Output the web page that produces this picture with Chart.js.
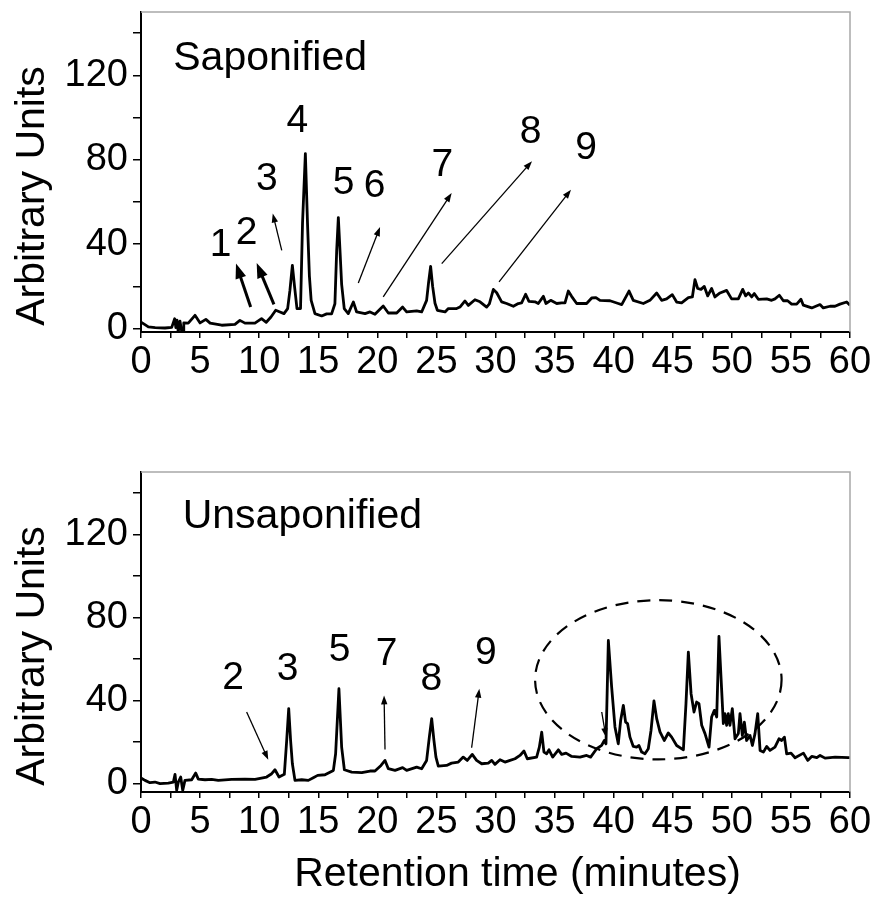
<!DOCTYPE html>
<html>
<head>
<meta charset="utf-8">
<script src="https://cdn.jsdelivr.net/npm/chart.js@4.4.1/dist/chart.umd.min.js"></script>
<style>
  body { margin: 0; background: #fff; }
  #wrap { position: relative; width: 877px; height: 900px; }
  canvas { position: absolute; left: 0; }
</style>
</head>
<body>
<div id="wrap">
  <canvas id="sapChart" width="877" height="410" style="top:0"></canvas>
  <canvas id="unsapChart" width="877" height="490" style="top:410px"></canvas>
</div>
<script>
// retention time (min) and signal
const sapTime = [
  0, 0.3, 0.62, 1.2, 2.03, 2.6, 2.85, 2.95, 3.05, 3.15,
  3.3, 3.45, 3.56, 3.62, 4.0, 4.57, 5.0, 5.49, 5.85, 6.83,
  7.95, 8.37, 8.8, 9.64, 10.2, 10.6, 11.0, 11.4, 11.76, 12.1,
  12.41, 12.6, 12.81, 13.0, 13.2, 13.5, 13.67, 13.91, 14.09, 14.25,
  14.4, 14.72, 15.29, 15.71, 16.13, 16.41, 16.56, 16.7, 16.84, 16.98,
  17.2, 17.54, 17.97, 18.25, 18.96, 19.38, 19.8, 20.5, 20.93, 21.64,
  22.14, 22.48, 23.33, 23.75, 24.17, 24.34, 24.51, 24.68, 24.88, 25.08,
  25.73, 26.01, 26.71, 26.99, 27.42, 27.7, 28.26, 28.69, 29.25, 29.48,
  29.82, 30.1, 30.52, 30.94, 31.51, 31.93, 32.21, 32.55, 32.83, 33.34,
  33.62, 34.05, 34.27, 34.67, 35.18, 35.6, 35.88, 36.16, 36.44, 36.87,
  37.71, 38.14, 38.5, 38.84, 39.69, 40.39, 40.68, 41.3, 41.66, 42.51,
  43.07, 43.64, 44.06, 44.48, 44.96, 45.33, 45.75, 46.32, 46.66, 46.88,
  47.11, 47.39, 47.67, 47.96, 48.29, 48.57, 49.0, 49.56, 49.98, 50.55,
  50.92, 51.17, 51.4, 51.68, 51.9, 52.24, 52.95, 53.37, 53.65, 54.02,
  54.36, 54.72, 55.06, 55.49, 55.85, 56.05, 56.76, 57.46, 57.74, 58.31,
  58.73, 59.15, 59.72, 60
]
const sapSignal = [
  3.1, 2.0, 0.8, 0.5, 0.3, 0.6, 4.7, 0.5, 4.0, -1.6,
  3.5, -1.6, -1.6, 2.7, 2.6, 6.3, 2.7, 4.4, 2.6, 1.6,
  2.0, 3.9, 2.6, 2.6, 4.7, 3.0, 5.5, 8.7, 7.9, 7.1,
  9.5, 18, 30.0, 19.7, 9.5, 9.5, 50, 82.9, 50, 25,
  13.4, 7.1, 6.0, 7.0, 7.0, 11.8, 37, 52.6, 37, 21,
  9.5, 7.1, 12.6, 7.9, 7.1, 7.9, 6.8, 10.7, 7.4, 7.4,
  10.2, 7.9, 8.4, 7.9, 13.4, 22, 29.5, 20, 12, 8.7,
  7.9, 9.5, 9.5, 10.2, 13.1, 11.0, 13.7, 12.7, 10.2, 11.7,
  18.6, 17.0, 12.7, 11.9, 10.6, 11.9, 12.2, 16.3, 12.9, 12.7,
  11.9, 15.3, 11.9, 13.4, 11.9, 12.2, 12.2, 17.8, 15.3, 11.9,
  11.9, 14.5, 14.7, 13.4, 13.2, 11.9, 11.4, 17.8, 13.4, 11.9,
  13.4, 16.9, 13.4, 14.1, 16.1, 12.6, 12.2, 14.7, 15.0, 23.2,
  19, 18.6, 20, 15.5, 19, 15.0, 16.9, 18.1, 14.1, 14.1,
  18.6, 15.5, 16.9, 15, 16.6, 13.9, 14.1, 13.4, 14.1, 15.8,
  13.2, 13.2, 11.6, 11.6, 13.9, 11.1, 9.8, 11.4, 9.8, 10.6,
  10.6, 11.6, 12.6, 11.1
]
const unsapTime = [
  0, 0.34, 0.76, 1.18, 1.61, 2.31, 2.74, 2.88, 3.02, 3.16,
  3.36, 3.53, 3.72, 4.29, 4.63, 4.85, 5.42, 5.98, 6.54, 7.67,
  8.8, 9.65, 10.63, 11.06, 11.34, 11.68, 12.13, 12.33, 12.5, 12.66,
  12.81, 13.03, 13.6, 14.16, 14.58, 14.95, 15.57, 16.28, 16.47, 16.75,
  16.98, 17.21, 17.83, 18.68, 19.38, 19.8, 20.31, 20.65, 20.93, 21.5,
  22.14, 22.48, 23.33, 23.75, 24.17, 24.4, 24.6, 24.79, 24.96, 25.16,
  25.86, 26.28, 26.85, 27.27, 27.61, 28.03, 28.4, 28.83, 29.39, 29.68,
  29.95, 30.38, 30.8, 31.23, 31.65, 32.07, 32.41, 32.69, 33.48, 33.71,
  33.91, 34.1, 34.33, 34.53, 34.84, 35.32, 35.6, 35.97, 36.45, 37.15,
  37.71, 38.05, 38.56, 38.98, 39.21, 39.35, 39.55, 39.83, 40.11, 40.39,
  40.59, 40.82, 41.01, 41.18, 41.38, 41.66, 41.94, 42.14, 42.37, 42.65,
  42.93, 43.16, 43.41, 43.64, 43.92, 44.28, 44.62, 44.91, 45.33, 45.9,
  46.12, 46.32, 46.55, 46.8, 47.02, 47.22, 47.45, 47.73, 48.07, 48.29,
  48.52, 48.72, 48.91, 49.14, 49.28, 49.42, 49.56, 49.7, 49.84, 50.04,
  50.27, 50.55, 50.69, 50.89, 51.06, 51.25, 51.54, 51.74, 51.96, 52.19,
  52.39, 52.67, 52.95, 53.23, 53.65, 53.99, 54.22, 54.45, 54.64, 55.01,
  55.35, 56.06, 56.42, 56.76, 57.19, 57.47, 57.89, 58.74, 59.87, 60
]
const unsapSignal = [
  2.7, 1.6, 0.5, 0.8, 0, 0.3, 0.8, 4.5, -3.2, 0.8,
  3.2, -3.2, 1.6, 1.9, 5.1, 2.2, 1.9, 2.1, 1.6, 2.1,
  2.2, 2.1, 3.2, 4.8, 6.7, 3.2, 4.5, 20.8, 36.1, 20.8,
  9.6, 1.6, 1.9, 1.6, 2.9, 4.0, 4.3, 6.4, 14.4, 45.7,
  17.6, 6.7, 5.6, 5.3, 6.1, 6.1, 8.8, 11.2, 7.2, 6.4,
  7.7, 6.4, 8.0, 7.2, 11.2, 22.4, 31.3, 20.8, 12.8, 8.5,
  8.8, 9.9, 10.4, 12.8, 11.2, 14.1, 11.2, 9.6, 9.9, 11.2,
  9.3, 11.5, 10.4, 11.2, 12.0, 13.6, 15.7, 12.0, 12.8, 17.6,
  24.8, 15.2, 14.4, 16.3, 12.8, 16.3, 14.1, 14.7, 13.1, 12.8,
  13.6, 12.8, 16.8, 18.4, 20.8, 19.2, 68.9, 46.5, 27.3, 19.2,
  30.4, 37.7, 29.6, 28.9, 22.4, 17.9, 17.6, 18.4, 15.2, 14.4,
  16.8, 25.6, 39.8, 31.3, 24.9, 20.8, 24.4, 22.4, 18.4, 16.3,
  38.5, 63.3, 43.3, 34.5, 39.3, 38.5, 28.1, 24.1, 17.6, 32.1,
  35.3, 32.1, 70.9, 44.9, 28.9, 33.7, 28.1, 33.7, 28.1, 36.1,
  21.6, 24.1, 33.7, 23.2, 29.6, 20.8, 23.2, 18.4, 24.1, 33.7,
  16.0, 15.2, 17.9, 16.0, 17.6, 21.6, 20.8, 22.4, 14.4, 14.7,
  12.5, 14.7, 11.2, 13.1, 12.5, 13.6, 12.3, 12.8, 12.5, 12.5
]

const xTicks = [0, 2.5, 5, 7.5, 10, 12.5, 15, 17.5, 20, 22.5, 25, 27.5, 30, 32.5, 35, 37.5, 40, 42.5, 45, 47.5, 50, 52.5, 55, 57.5, 60]
const xLabelled = [0, 5, 10, 15, 20, 25, 30, 35, 40, 45, 50, 55, 60]
const yTicks = [0, 20, 40, 60, 80, 100, 120, 140]
const yLabelled = [0, 40, 80, 120]

// peak numbers and arrows, in (time, signal) units
const sapNotes = {
  title: {text: 'Saponified', t: 2.73, v: 122.4},
  labels: [
    {text: '1', t: 6.73, v: 39.5}, {text: '2', t: 8.94, v: 45.4}, {text: '3', t: 10.64, v: 70.7},
    {text: '4', t: 13.24, v: 98.2}, {text: '5', t: 17.14, v: 69.1}, {text: '6', t: 19.76, v: 67.4},
    {text: '7', t: 25.51, v: 77.4}, {text: '8', t: 32.96, v: 92.8}, {text: '9', t: 37.66, v: 85.6}
  ],
  arrows: [
    {from: [9.28, 10.2], to: [8.04, 30.8], bold: true},
    {from: [11.25, 11.5], to: [9.79, 31.1], bold: true},
    {from: [11.91, 37.1], to: [11.15, 54.5]},
    {from: [18.39, 21.6], to: [20.23, 48.1]},
    {from: [20.5, 15.0], to: [26.29, 64.2]},
    {from: [25.45, 30.8], to: [33.09, 79.3]},
    {from: [30.3, 22.1], to: [36.39, 65.8]}
  ]
}
const unsapNotes = {
  title: {text: 'Unsaponified', t: 3.53, v: 123.0},
  labels: [
    {text: '2', t: 7.79, v: 50.9}, {text: '3', t: 12.4, v: 55.0}, {text: '5', t: 16.81, v: 64.0},
    {text: '7', t: 20.79, v: 62.2}, {text: '8', t: 24.58, v: 50.5}, {text: '9', t: 29.18, v: 62.6}
  ],
  arrows: [
    {from: [8.94, 34.5], to: [10.77, 11.5]},
    {from: [20.65, 16.4], to: [20.57, 42.5]},
    {from: [27.98, 17.3], to: [28.63, 45.7]},
    {from: [38.99, 34.5], to: [39.35, 22.4]}
  ],
  ellipse: {t: 43.78, v: 50.0, rt: 10.43, rv: 38.3}
}

const FONT = '"Liberation Sans", Arial, Helvetica, sans-serif'

function drawArrow(ctx, x0, y0, x1, y1, bold) {
  let len = bold ? 15 : 9
  let half = bold ? 5.5 : 3.2
  let ang = Math.atan2(y1 - y0, x1 - x0)
  ctx.lineWidth = bold ? 3 : 1.3
  ctx.beginPath()
  ctx.moveTo(x0, y0)
  ctx.lineTo(x1 - Math.cos(ang) * len * 0.8, y1 - Math.sin(ang) * len * 0.8)
  ctx.stroke()
  ctx.beginPath()
  ctx.moveTo(x1, y1)
  ctx.lineTo(x1 - Math.cos(ang) * len - Math.sin(ang) * half, y1 - Math.sin(ang) * len + Math.cos(ang) * half)
  ctx.lineTo(x1 - Math.cos(ang) * len + Math.sin(ang) * half, y1 - Math.sin(ang) * len - Math.cos(ang) * half)
  ctx.closePath()
  ctx.fill()
}

const notesPlugin = {
  id: 'notes',
  afterDatasetsDraw(chart, args, opts) {
    let ctx = chart.ctx
    let x = chart.scales.x, y = chart.scales.y
    let area = chart.chartArea
    let n = opts.notes
    ctx.save()
    // grey top and right frame
    ctx.strokeStyle = '#a8a8a8'
    ctx.lineWidth = 1.5
    ctx.beginPath()
    ctx.moveTo(area.left, area.top)
    ctx.lineTo(area.right, area.top)
    ctx.lineTo(area.right, area.bottom)
    ctx.stroke()

    ctx.fillStyle = '#000'
    ctx.strokeStyle = '#000'
    ctx.font = '41px ' + FONT
    ctx.textAlign = 'left'
    ctx.textBaseline = 'alphabetic'
    ctx.fillText(n.title.text, x.getPixelForValue(n.title.t), y.getPixelForValue(n.title.v))

    ctx.font = '39px ' + FONT
    ctx.textAlign = 'center'
    ctx.textBaseline = 'middle'
    n.labels.forEach(l => ctx.fillText(l.text, x.getPixelForValue(l.t), y.getPixelForValue(l.v)))
    n.arrows.forEach(a => drawArrow(ctx,
      x.getPixelForValue(a.from[0]), y.getPixelForValue(a.from[1]),
      x.getPixelForValue(a.to[0]), y.getPixelForValue(a.to[1]), a.bold))

    if (n.ellipse) {
      let e = n.ellipse
      let cx = x.getPixelForValue(e.t), cy = y.getPixelForValue(e.v)
      ctx.lineWidth = 2.2
      ctx.setLineDash([13, 9])
      ctx.beginPath()
      ctx.ellipse(cx, cy, x.getPixelForValue(e.t + e.rt) - cx, cy - y.getPixelForValue(e.v + e.rv), 0, 0, Math.PI * 2)
      ctx.stroke()
      ctx.setLineDash([])
    }

    // axis titles
    ctx.font = '41px ' + FONT
    ctx.save()
    ctx.translate(33, (area.top + area.bottom) / 2 + 24)
    ctx.rotate(-Math.PI / 2)
    ctx.fillText('Arbitrary Units', 0, 0)
    ctx.restore()
    if (opts.xTitle) {
      ctx.textBaseline = 'alphabetic'
      ctx.fillText(opts.xTitle, (area.left + area.right) / 2 + 22, area.bottom + 94)
    }
    ctx.restore()
  }
}

function makePanel(id, time, signal, yMin, padTop, xHeight, notes, xTitle) {
  let ctx = document.getElementById(id).getContext('2d')
  return new Chart(ctx, {
    type: 'line',
    data: {
      datasets: [{
        data: time.map((t, i) => ({x: t, y: signal[i]})),
        borderColor: '#000',
        borderWidth: 2.8,
        borderJoinStyle: 'round',
        pointRadius: 0,
        tension: 0,
        fill: false
      }]
    },
    options: {
      responsive: false,
      animation: false,
      devicePixelRatio: 1,
      layout: {padding: {top: padTop, right: 27, left: 0, bottom: 0}},
      plugins: {legend: {display: false}, tooltip: {enabled: false}, notes: {notes: notes, xTitle: xTitle}},
      scales: {
        x: {
          type: 'linear', min: 0, max: 60,
          afterBuildTicks: s => { s.ticks = xTicks.map(v => ({value: v})) },
          afterFit: s => { s.height = xHeight; s.paddingLeft = 0; s.paddingRight = 0 },
          grid: {drawOnChartArea: false, drawTicks: true, tickLength: 6, color: '#000', lineWidth: 1.5},
          border: {display: true, color: '#000', width: 2},
          ticks: {
            autoSkip: false, maxRotation: 0, minRotation: 0, padding: 2, color: '#000',
            font: {family: FONT, size: 38},
            callback: v => xLabelled.includes(v) ? String(v) : ''
          }
        },
        y: {
          min: yMin, max: 150,
          afterBuildTicks: s => { s.ticks = yTicks.map(v => ({value: v})) },
          // fixed width, and no extra room for the end labels
          afterFit: s => { s.width = 141; s.paddingTop = 0; s.paddingBottom = 0 },
          grid: {drawOnChartArea: false, drawTicks: true, tickLength: 8, color: '#000', lineWidth: 1.5},
          border: {display: true, color: '#000', width: 2},
          ticks: {
            autoSkip: false, padding: 5, color: '#000',
            font: {family: FONT, size: 38},
            callback: v => yLabelled.includes(v) ? String(v) : ''
          }
        }
      }
    },
    plugins: [notesPlugin]
  })
}

makePanel('sapChart', sapTime, sapSignal, -1.6, 12, 78, sapNotes, null)
makePanel('unsapChart', unsapTime, unsapSignal, -4, 62, 108, unsapNotes, 'Retention time (minutes)')
</script>
</body>
</html>
